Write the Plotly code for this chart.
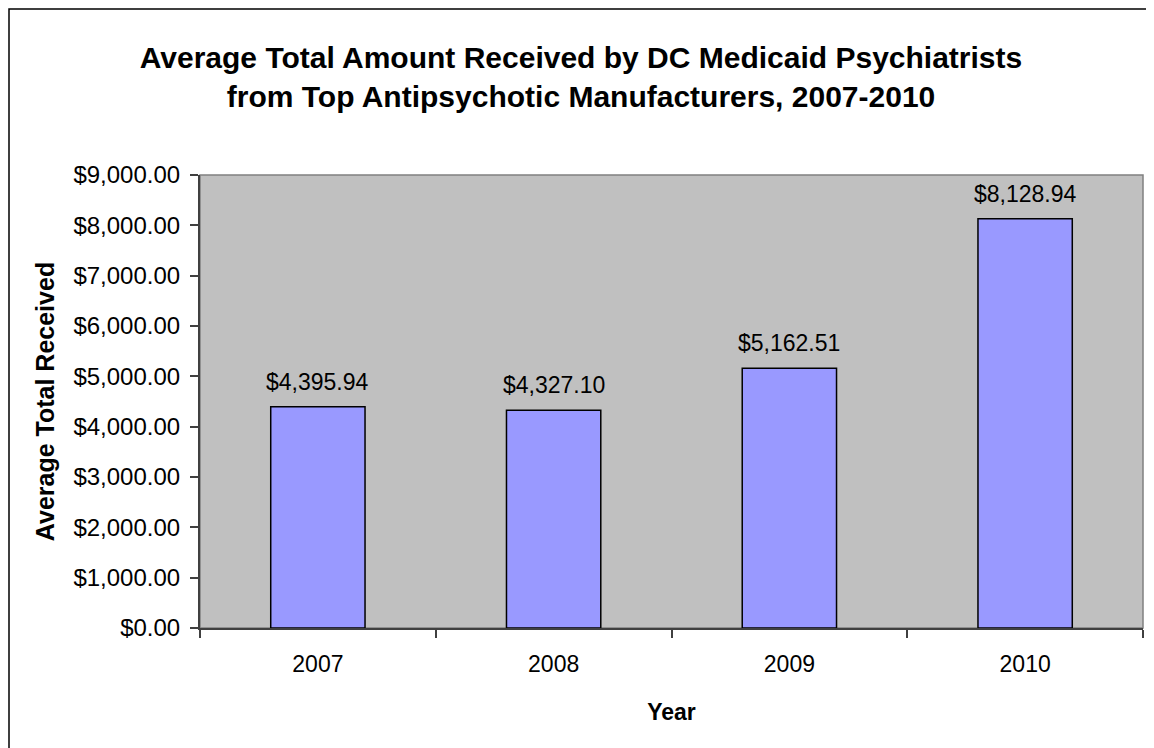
"""Average total amount received by DC Medicaid psychiatrists, bar chart."""

import plotly.graph_objects as go

years = ["2007", "2008", "2009", "2010"]
avg_received = [4395.94, 4327.10, 5162.51, 8128.94]
y_ticks = [0, 1000, 2000, 3000, 4000, 5000, 6000, 7000, 8000, 9000]

FONT = "Liberation Sans, Arial, sans-serif"
# page body adds an 8px margin, so the figure is sized to fill the rest
W, H = 1146, 740
L, R, T, B = 192, 11, 167, 120


def money(v):
    return f"${v:,.2f}"


fig = go.Figure()
fig.add_trace(
    go.Bar(
        x=years,
        y=avg_received,
        width=0.4,
        marker={"color": "#9999FF", "line": {"color": "#000000", "width": 1.5}},
        hovertemplate="%{x}: %{y:$,.2f}<extra></extra>",
    )
)

# data labels sitting just above each bar (category index positions)
for i, val in enumerate(avg_received):
    fig.add_annotation(
        x=i, y=val, text=money(val), showarrow=False,
        yanchor="bottom", yshift=10,
        font={"family": FONT, "size": 23, "color": "#000000"},
    )

pw, ph = W - L - R, H - T - B
# outer chart border
fig.add_shape(
    type="rect", xref="paper", yref="paper",
    x0=(1 - L) / pw, x1=(W + 6 - L) / pw,
    y0=(H - B - (H + 6)) / ph, y1=(H - B - 1) / ph,
    line={"color": "#000000", "width": 1.5}, layer="below",
)
# plot-area frame (top and right edges in gray)
fig.add_shape(
    type="rect", xref="paper", yref="paper", x0=0, x1=1, y0=0, y1=1,
    line={"color": "#808080", "width": 1.5}, layer="below",
)

fig.update_layout(
    width=W, height=H,
    margin={"l": L, "r": R, "t": T, "b": B, "autoexpand": False},
    paper_bgcolor="#FFFFFF",
    plot_bgcolor="#C0C0C0",
    showlegend=False,
    font={"family": FONT, "color": "#000000"},
    title={
        "text": "<b>Average Total Amount Received by DC Medicaid Psychiatrists<br>"
                "from Top Antipsychotic Manufacturers, 2007-2010</b>",
        "x": 0.5, "xanchor": "center",
        "y": 1 - 60 / H, "yanchor": "middle", "yref": "container",
        "font": {"family": FONT, "size": 30, "color": "#000000"},
    },
)

fig.update_xaxes(
    type="category",
    range=[-0.5, len(years) - 0.5],
    tickson="boundaries",
    ticks="outside", ticklen=8, tickcolor="#404040", tickwidth=1.5,
    showline=True, linecolor="#404040", linewidth=2,
    showgrid=False,
    tickangle=0,
    tickfont={"family": FONT, "size": 23},
    ticklabelstandoff=14,
    automargin=False,
    title={"text": "<b>Year</b>", "standoff": 28, "font": {"family": FONT, "size": 23}},
)
fig.update_yaxes(
    range=[0, 9000],
    tickvals=y_ticks,
    ticktext=[money(v) for v in y_ticks],
    ticks="outside", ticklen=8, tickcolor="#404040", tickwidth=1.5,
    showline=True, linecolor="#404040", linewidth=2,
    showgrid=False, zeroline=False,
    tickfont={"family": FONT, "size": 24},
    ticklabelstandoff=5,
    automargin=False,
    title={"text": "<b>Average Total Received</b>", "standoff": 12,
           "font": {"family": FONT, "size": 25}},
)

fig.write_html("out.html")
